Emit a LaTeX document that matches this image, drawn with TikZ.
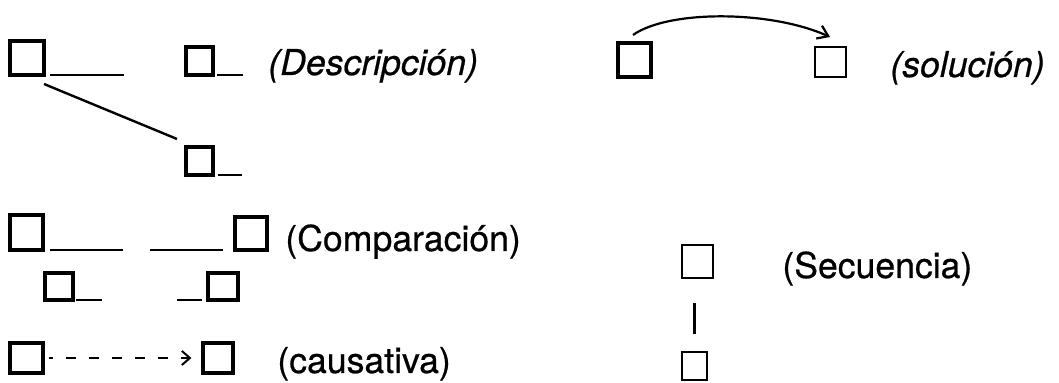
\documentclass[tikz,border=0pt]{standalone}
\usepackage{fontspec}
\setmainfont{TeX Gyre Heros}[FakeBold=0.6]
\usetikzlibrary{arrows.meta}
\begin{document}
\begin{tikzpicture}[x=0.5pt,y=-0.5pt,
  sq/.style={draw,line width=1.6pt,inner sep=0pt,minimum width=#1},
  uline/.style={line width=1.2pt},
  lbl/.style={anchor=base west,inner sep=0pt,font=\fontsize{17.8}{20}\selectfont}]
\useasboundingbox (0,0) rectangle (1059,383);
% Descripcion
\node[sq=17pt,minimum height=17pt] (A) at (27,58) {};
\node[sq=13.5pt,minimum height=14pt] (B) at (199.5,61) {};
\node[sq=13.5pt,minimum height=14pt] (C) at (199.5,161) {};
\draw[uline] (50,75) -- (124,75);
\draw[uline] (217,75) -- (243,75);
\draw[uline] (218,175) -- (242,175);
\coordinate (a1) at (44,84);
\coordinate (c1) at (177,139);
\draw[line width=1.2pt] (a1) -- (c1);
\node[lbl] (tdesc) at (268,75) {\itshape (Descripción)};
% solucion
\node[sq=16.5pt,minimum height=17pt] (D) at (634.5,60) {};
\node[sq=15.5pt,minimum height=15pt,line width=1.2pt] (E) at (830.5,62) {};
\coordinate (d1) at (633,35);
\coordinate (e1) at (830,37);
\draw[line width=1.1pt,-{Straight Barb[length=5pt,width=7pt,line width=1.1pt]}] (d1) .. controls (668,10) and (770,10) .. (e1);
\node[lbl] (tsol) at (890,77) {\itshape (solución)};
% Comparacion
\node[sq=16.5pt,minimum height=17.5pt] (F) at (26.5,232.5) {};
\node[sq=16pt,minimum height=16.5pt] (G) at (251,233.5) {};
\node[sq=14pt,minimum height=13.5pt] (H) at (59,286.5) {};
\node[sq=15pt,minimum height=13.5pt] (I) at (223,286.5) {};
\draw[uline] (50,250) -- (123,250);
\draw[uline] (150,250) -- (223,250);
\draw[uline] (76,300) -- (102,300);
\draw[uline] (177,300) -- (202,300);
\node[lbl] (tcomp) at (285,251) {(Comparación)};
% causativa
\node[sq=16.5pt,minimum height=15pt] (J) at (26.5,358) {};
\node[sq=15pt,minimum height=15pt] (K) at (218,358) {};
\draw[line width=1pt,dash pattern=on 5pt off 6.5pt,dash phase=3pt,
  -{Straight Barb[length=4pt,width=7pt,line width=1pt]},shorten <=2pt,shorten >=5pt] (J.east) -- (K.west);
\node[lbl] (tcaus) at (277,373) {(causativa)};
% Secuencia
\node[sq=15.5pt,minimum height=16.5pt,line width=1.3pt] (L) at (697.5,261.5) {};
\node[sq=12.5pt,minimum height=14pt,line width=1.3pt] (M) at (694.5,366) {};
\draw[line width=1.1pt] ([yshift=-12pt]L.south -| M.north) -- ([yshift=8.5pt]M.north);
\node[lbl] (tsec) at (782,278) {(Secuencia)};
\end{tikzpicture}
\end{document}
